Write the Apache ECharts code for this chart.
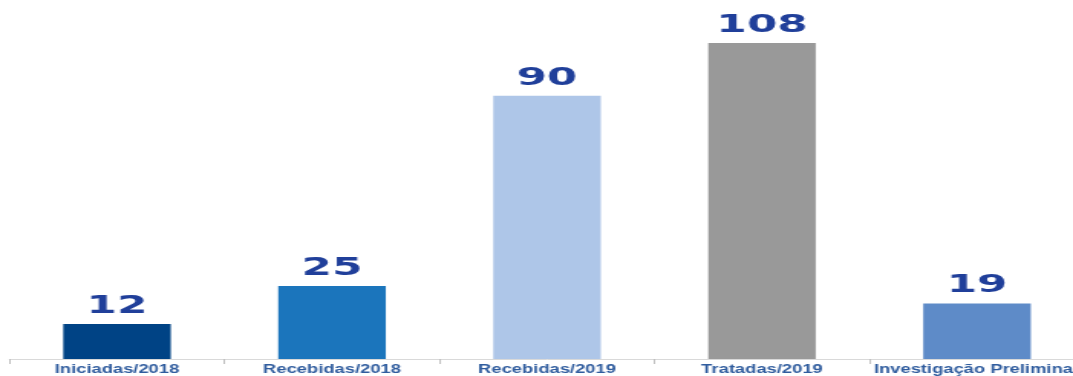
<!DOCTYPE html>
<html>
<head>
<meta charset="utf-8">
<script src="https://cdn.jsdelivr.net/npm/echarts@6/dist/echarts.min.js"></script>
<style>
  html, body { margin: 0; padding: 0; background: #ffffff; overflow: hidden; }
  #wrap { width: 1073px; height: 376px; overflow: hidden; position: relative; background: #ffffff; }
  #chart { width: 730px; height: 376px; transform: scaleX(1.5307); transform-origin: 0 0; }
</style>
</head>
<body>
<div id="wrap"><div id="chart"></div></div>
<script>
const categories = ['Iniciadas/2018', 'Recebidas/2018', 'Recebidas/2019', 'Tratadas/2019', 'Investigação Preliminar'];
const values = [12, 25, 90, 108, 19];

const barColors = ['#004385', '#1B75BC', '#AEC6E8', '#999999', '#5E8BC8'];

const chart = echarts.init(document.getElementById('chart'), null, { renderer: 'canvas' });
chart.setOption({
  animation: false,
  backgroundColor: '#ffffff',
  grid: { left: 6.2, width: 702.3, top: 8, height: 351, containLabel: false, outerBoundsMode: 'none' },
  xAxis: {
    type: 'category',
    data: categories,
    axisLine: { show: true, lineStyle: { color: '#D9D9D9', width: 1 } },
    axisTick: { show: true, length: 5, lineStyle: { color: '#BFBFBF' } },
    axisLabel: {
      interval: 0,
      margin: 5,
      color: '#2F5C9E',
      fontFamily: 'Liberation Sans, Arial, sans-serif',
      fontWeight: 'bold',
      fontSize: 12,
      hideOverlap: false
    }
  },
  yAxis: {
    type: 'value',
    min: 0,
    max: 120,
    show: false,
    splitLine: { show: false }
  },
  series: [{
    type: 'bar',
    barWidth: '50%',
    data: values.map((v, i) => ({ value: v, itemStyle: { color: barColors[i] } })),
    label: { show: false }
  }, {
    type: 'custom',
    silent: true,
    z: 10,
    data: values.map((v, i) => [i, v]),
    renderItem: function (params, api) {
      const p = api.coord([api.value(0), api.value(1)]);
      return {
        type: 'text',
        x: p[0],
        y: p[1] - 5,
        scaleX: 1.14,
        style: {
          text: String(api.value(1)),
          fill: '#203F9A',
          font: 'bold 25px "DejaVu Sans", sans-serif',
          align: 'center',
          verticalAlign: 'bottom'
        }
      };
    }
  }]
});
</script>
</body>
</html>
